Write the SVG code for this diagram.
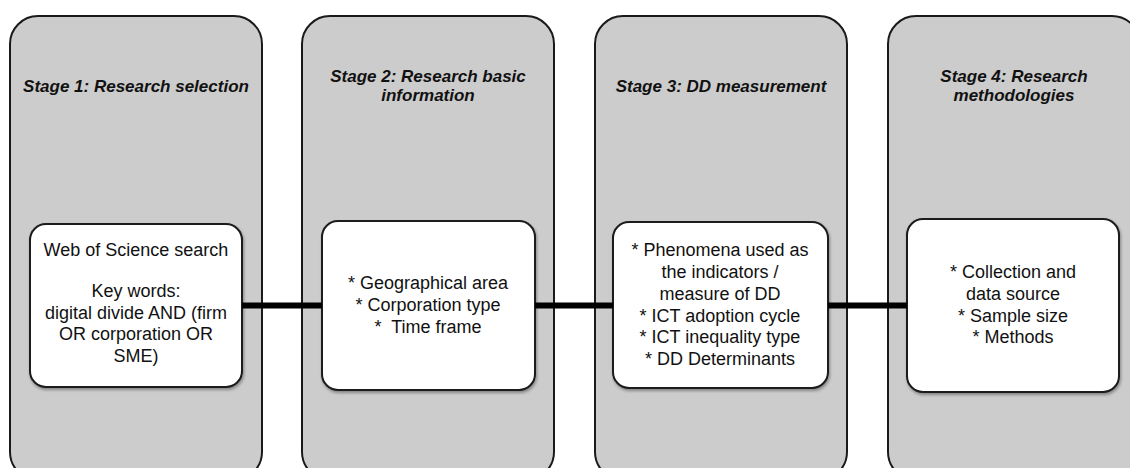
<svg xmlns="http://www.w3.org/2000/svg" width="1130" height="468" viewBox="0 0 1130 468">
  <defs>
    <filter id="shadow" x="-10%" y="-10%" width="130%" height="130%">
      <feDropShadow dx="1" dy="2" stdDeviation="1.5" flood-color="#000" flood-opacity="0.35"/>
    </filter>
    <style>
      .stage { fill: #cccccc; stroke: #1a1a1a; stroke-width: 2; }
      .inner { fill: #ffffff; stroke: #1a1a1a; stroke-width: 2; filter: url(#shadow); }
      .title { font-family: "Liberation Sans", Arial, sans-serif; font-size: 17px; font-weight: bold; font-style: italic; fill: #111; text-anchor: middle; }
      .body { font-family: "Liberation Sans", Arial, sans-serif; font-size: 18px; fill: #111; text-anchor: middle; }
      .conn { stroke: #000; stroke-width: 6; fill: none; }
    </style>
  </defs>
  <rect width="1130" height="468" fill="#ffffff"/>

  <g id="stage1">
    <rect class="stage" x="10" y="16" width="252" height="464" rx="28" ry="28"/>
    <text class="title" x="136" y="92">Stage 1: Research selection</text>
    <rect class="inner" x="30" y="224" width="212" height="163" rx="16" ry="16"/>
    <text class="body" x="136" y="256">Web of Science search</text>
    <text class="body" x="136" y="297">Key words:</text>
    <text class="body" x="136" y="319">digital divide AND (firm</text>
    <text class="body" x="136" y="340">OR corporation OR</text>
    <text class="body" x="136" y="362">SME)</text>
  </g>

  <g id="stage2">
    <rect class="stage" x="302" y="16" width="252" height="464" rx="28" ry="28"/>
    <text class="title" x="428" y="82">Stage 2: Research basic</text>
    <text class="title" x="428" y="101">information</text>
    <rect class="inner" x="322" y="221" width="213" height="169" rx="16" ry="16"/>
    <text class="body" x="428" y="289">* Geographical area</text>
    <text class="body" x="428" y="311">* Corporation type</text>
    <text class="body" x="428" y="333" xml:space="preserve">*  Time frame</text>
  </g>

  <g id="stage3">
    <rect class="stage" x="595" y="16" width="252" height="464" rx="28" ry="28"/>
    <text class="title" x="721" y="92">Stage 3: DD measurement</text>
    <rect class="inner" x="613" y="222" width="215" height="166" rx="16" ry="16"/>
    <text class="body" x="720" y="256">* Phenomena used as</text>
    <text class="body" x="720" y="278">the indicators /</text>
    <text class="body" x="720" y="300">measure of DD</text>
    <text class="body" x="720" y="322">* ICT adoption cycle</text>
    <text class="body" x="720" y="343">* ICT inequality type</text>
    <text class="body" x="720" y="365">* DD Determinants</text>
  </g>

  <g id="stage4">
    <rect class="stage" x="888" y="16" width="252" height="464" rx="28" ry="28"/>
    <text class="title" x="1014" y="82">Stage 4: Research</text>
    <text class="title" x="1014" y="101">methodologies</text>
    <rect class="inner" x="907" y="219" width="212" height="173" rx="16" ry="16"/>
    <text class="body" x="1013" y="278">* Collection and</text>
    <text class="body" x="1013" y="300">data source</text>
    <text class="body" x="1013" y="322">* Sample size</text>
    <text class="body" x="1013" y="343">* Methods</text>
  </g>

  <g id="connectors">
    <line class="conn" x1="242" y1="305.5" x2="322" y2="305.5"/>
    <line class="conn" x1="535" y1="305.5" x2="613" y2="305.5"/>
    <line class="conn" x1="828" y1="305.5" x2="907" y2="305.5"/>
  </g>
</svg>
